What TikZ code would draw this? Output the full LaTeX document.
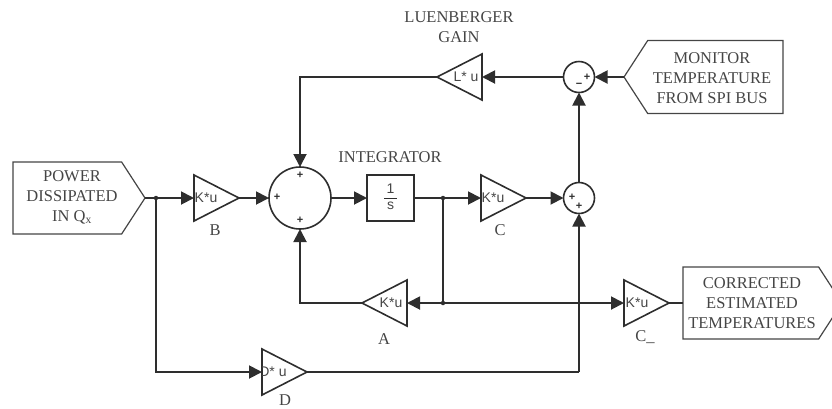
\documentclass[tikz,border=0pt]{standalone}
\usepackage{fontspec}
\setmainfont{Liberation Serif}
\setsansfont{Liberation Sans}
\usetikzlibrary{arrows.meta,shapes.geometric,shapes.symbols}
\definecolor{wire}{HTML}{2E2E2E}
\definecolor{ink}{HTML}{454545}
\tikzset{
  x=1pt,y=-1pt,
  wire/.style={draw=wire,line width=1.9pt,-{Triangle[length=13pt,width=13pt]},line join=miter},
  plainwire/.style={draw=wire,line width=1.9pt},
  caption/.style={text=ink,font=\fontsize{16.5}{20}\selectfont,align=center,inner sep=0pt,outer sep=0pt},
  gaintext/.style={text=ink,font=\sffamily\fontsize{14}{14}\selectfont,inner sep=0pt},
  gain/.style={isosceles triangle,isosceles triangle stretches,draw=wire,line width=1.6pt,
     minimum width=46pt,minimum height=45pt,inner sep=0pt,outer sep=0pt},
  sumring/.style={circle,draw=wire,line width=1.6pt,inner sep=0pt,outer sep=0pt},
  bigsum/.style={sumring,minimum size=62pt},
  smallsum/.style={sumring,minimum size=31pt},
  sign/.style={text=wire,font=\sffamily\bfseries\fontsize{11}{11}\selectfont,inner sep=0pt},
  signalbox/.style={signal,draw=ink,line width=1.2pt,signal pointer angle=114,
     minimum height=72pt,inner sep=0pt,outer sep=0pt},
  dot/.style={circle,fill=wire,minimum size=4.5pt,inner sep=0pt},
  block/.style={rectangle,draw=wire,line width=1.6pt,minimum width=47pt,minimum height=46pt,inner sep=0pt,outer sep=0pt}
}
\newcommand{\gainlabel}[3]{%
  \begin{scope}
    \clip (#1.left corner) -- (#1.apex) -- (#1.right corner) -- cycle;
    \node[gaintext] (#1text) at (#2) {#3};
  \end{scope}}
\begin{document}
\begin{tikzpicture}
\useasboundingbox (0,0) rectangle (832,408);
\clip (0,0) rectangle (832,408);
% source and sink shapes
\node[signalbox,signal to=east,minimum width=132pt,anchor=west] (power) at (13,198) {};
\node[signalbox,signal to=west,minimum width=159pt,anchor=east,minimum height=73pt] (monitor) at (783,77) {};
\node[signalbox,signal to=east,minimum width=159pt,anchor=west] (corrected) at (683,303) {};
\node[caption] (powerlabel) at (72,197) {POWER\\DISSIPATED\\IN Q\textsubscript{x}};
\node[caption] (monitorlabel) at (712,78) {MONITOR\\TEMPERATURE\\FROM SPI BUS};
\node[caption] (correctedlabel) at (752,303) {CORRECTED\\ESTIMATED\\TEMPERATURES};
% gains
\node[gain,anchor=lower side] (B) at (194,198) {};
\node[gain,anchor=lower side] (C) at (481,198) {};
\node[gain,anchor=lower side] (Cu) at (624,303) {};
\node[gain,anchor=lower side] (D) at (262,372) {};
\node[gain,shape border rotate=180,anchor=lower side] (A) at (407,303) {};
\node[gain,shape border rotate=180,anchor=lower side] (L) at (482,77) {};
\gainlabel{B}{206,198}{K*u}
\gainlabel{C}{493,198}{K*u}
\gainlabel{Cu}{637,303}{K*u}
\gainlabel{D}{273,372}{D* u}
\gainlabel{A}{391,303}{K*u}
\gainlabel{L}{466,77}{L* u}
% sums and integrator
\node[bigsum] (S) at (300,198) {};
\node[smallsum] (Slow) at (579,198) {};
\node[smallsum] (Sup) at (579,77) {};
\node[block] (I) at (390.5,198) {};
\node[text=ink,font=\sffamily\fontsize{14}{14}\selectfont,inner sep=0pt] (Ione) at (390.5,189) {1};
\node[text=ink,font=\sffamily\fontsize{14}{14}\selectfont,inner sep=0pt] (Is) at (390.5,206) {s};
\draw[plainwire,line width=1pt] (384,198) -- (397,198);
% signs
\node[sign] (p1) at (277,197.5) {+};
\node[sign] (p2) at (300,175) {+};
\node[sign] (p3) at (300,220.5) {+};
\node[sign] (p4) at (587,77) {+};
\node[sign] (m1) at (579,85) {−};
\node[sign] (p5) at (572,197.5) {+};
\node[sign] (p6) at (579,206) {+};
% captions
\node[caption] (intlabel) at (390,157) {INTEGRATOR};
\node[caption] (luenlabel) at (459,27) {LUENBERGER\\GAIN};
\node[caption] (blabel) at (215,230) {B};
\node[caption] (clabel) at (500,230) {C};
\node[caption] (alabel) at (384,339) {A};
\node[caption] (dlabel) at (285,400) {D};
\node[caption] (culabel) at (645,337) {C\_};
% junctions
\node[dot] (j1) at (156,198) {};
\node[dot] (j2) at (443,198) {};
\node[dot] (j3) at (443,303) {};
\coordinate (fromD) at (579,372);
% connectors
\draw[plainwire] (power.east) -- (j1);
\draw[wire] (j1) -- (B.lower side);
\draw[wire] (B.apex) -- (S.west);
\draw[wire] (S.east) -- (I.west);
\draw[plainwire] (I.east) -- (j2);
\draw[wire] (j2) -- (C.lower side);
\draw[wire] (C.apex) -- (Slow.west);
\draw[wire] (Slow.north) -- (Sup.south);
\draw[wire] (monitor.west) -- (Sup.east);
\draw[wire] (Sup.west) -- (L.lower side);
\draw[wire] (L.apex) -| (S.north);
\draw[plainwire] (j2) -- (j3);
\draw[wire] (j3) -- (A.lower side);
\draw[wire] (j3) -- (Cu.lower side);
\draw[wire] (A.apex) -| (S.south);
\draw[plainwire] (Cu.apex) -- (corrected.west);
\draw[wire] (j1) |- (D.lower side);
\draw[plainwire] (D.apex) -- (fromD);
\draw[wire] (fromD) -- (Slow.south);
\end{tikzpicture}
\end{document}
